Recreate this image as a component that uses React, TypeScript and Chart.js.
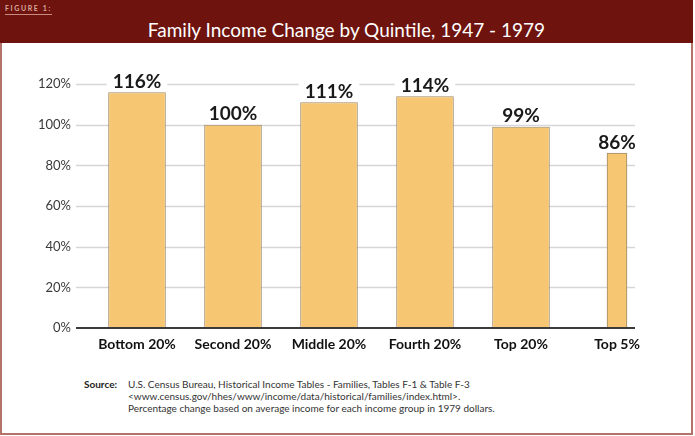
import React, { useEffect, useRef } from 'react';
import { Chart, registerables } from 'chart.js';

Chart.register(...registerables);

const figureLabel = 'FIGURE 1:';
const titleText = 'Family Income Change by Quintile, 1947 - 1979';
const categories = ['Bottom 20%', 'Second 20%', 'Middle 20%', 'Fourth 20%', 'Top 20%', 'Top 5%'];
const values = [116, 100, 111, 114, 99, 86];
const narrowCategories = ['Top 5%'];
const yMin = 0;
const yMax = 120;
const yStep = 20;
const sourceLabel = 'Source:';
const sourceLines = [
  'U.S. Census Bureau, Historical Income Tables - Families, Tables F-1 & Table F-3',
  '<www.census.gov/hhes/www/income/data/historical/families/index.html>.',
  'Percentage change based on average income for each income group in 1979 dollars.',
];

const FONT = 'Lato, "Open Sans", "DejaVu Sans", sans-serif';
const BAR_FILL = '#f6c672';
const BAR_EDGE = '#9a8a6a';

const gridPlugin = {
  id: 'customGrid',
  beforeDatasetsDraw(chart: any) {
    const { ctx } = chart;
    const y = chart.scales.y;
    const x0 = 76;
    const x1 = 635;
    ctx.save();
    ctx.strokeStyle = '#d6d6d6';
    ctx.lineWidth = 1.5;
    y.ticks.forEach((t: any) => {
      if (t.value === yMin) return;
      const py = Math.round(y.getPixelForValue(t.value)) + 0.5;
      ctx.beginPath();
      ctx.moveTo(x0, py);
      ctx.lineTo(x1, py);
      ctx.stroke();
    });
    ctx.restore();
  },
  afterDatasetsDraw(chart: any) {
    const { ctx } = chart;
    const y = chart.scales.y;
    ctx.save();
    // value labels with white backing
    ctx.font = `bold 19px ${FONT}`;
    ctx.textAlign = 'center';
    ctx.textBaseline = 'alphabetic';
    chart.data.datasets.forEach((ds: any, di: number) => {
      const meta = chart.getDatasetMeta(di);
      meta.data.forEach((bar: any, i: number) => {
        const v = ds.data[i];
        if (v === null || v === undefined) return;
        const text = `${v}%`;
        const w = ctx.measureText(text).width;
        const base = bar.y - 4.5;
        ctx.fillStyle = '#ffffff';
        ctx.fillRect(bar.x - w / 2 - 6, base - 17, w + 12, 19);
        ctx.fillStyle = '#1a1a1a';
        ctx.fillText(text, bar.x, base);
      });
    });
    // baseline
    const py = y.getPixelForValue(yMin);
    ctx.strokeStyle = '#3a3a3a';
    ctx.lineWidth = 2;
    ctx.beginPath();
    ctx.moveTo(76, py);
    ctx.lineTo(635, py);
    ctx.stroke();
    ctx.restore();
  },
};

export default function App() {
  const canvasRef = useRef<HTMLCanvasElement | null>(null);

  useEffect(() => {
    document.body.style.margin = '0';
    const canvas = canvasRef.current;
    if (!canvas) return;
    const wideData = categories.map((c, i) => (narrowCategories.includes(c) ? null : values[i]));
    const narrowData = categories.map((c, i) => (narrowCategories.includes(c) ? values[i] : null));
    const chart = new Chart(canvas, {
      type: 'bar',
      data: {
        labels: categories,
        datasets: [
          {
            label: 'Quintiles',
            data: wideData,
            backgroundColor: BAR_FILL,
            borderColor: BAR_EDGE,
            borderWidth: 1,
            barPercentage: 0.6,
            categoryPercentage: 1,
            grouped: false,
          } as any,
          {
            label: 'Top 5%',
            data: narrowData,
            backgroundColor: BAR_FILL,
            borderColor: BAR_EDGE,
            borderWidth: 1,
            barThickness: 20,
            grouped: false,
          } as any,
        ],
      },
      options: {
        responsive: false,
        animation: false,
        devicePixelRatio: 1,
        layout: { padding: { left: 0, right: 30, top: 41, bottom: 0 } },
        plugins: {
          legend: { display: false },
          tooltip: { enabled: false },
          title: { display: false },
        },
        scales: {
          x: {
            type: 'category',
            offset: true,
            grid: { display: false, drawTicks: false },
            border: { display: false },
            ticks: {
              color: '#111111',
              font: { family: FONT, size: 14, weight: 'bold' },
              padding: 8,
              maxRotation: 0,
              autoSkip: false,
            },
            afterFit: (s: any) => {
              s.height = 35;
            },
          },
          y: {
            min: yMin,
            max: yMax,
            grid: { display: false, drawTicks: false },
            border: { display: false },
            ticks: {
              stepSize: yStep,
              color: '#3a3a3a',
              font: { family: FONT, size: 13 },
              padding: 18,
              callback: (v: any) => `${v}%`,
            },
            afterFit: (s: any) => {
              s.width = 89;
            },
          },
        },
      },
      plugins: [gridPlugin],
    });
    return () => chart.destroy();
  }, []);

  return (
    <div
      style={{
        position: 'fixed',
        left: 0,
        top: 0,
        width: 695,
        height: 436,
        background: '#ffffff',
        overflow: 'hidden',
        fontFamily: FONT,
      }}
    >
      <div
        style={{
          position: 'absolute',
          left: 0,
          top: 0,
          width: 689,
          height: 431,
          border: '2px solid #b3736a',
          boxSizing: 'content-box',
        }}
      />
      <div
        style={{
          position: 'absolute',
          left: 0,
          top: 0,
          width: 693,
          height: 43,
          background: '#6e130e',
        }}
      >
        <div
          style={{
            position: 'absolute',
            left: 5,
            top: 4,
            fontSize: 7,
            fontWeight: 'bold',
            letterSpacing: 1.6,
            color: '#dba89f',
            borderBottom: '1px solid #c98a80',
            paddingBottom: 1,
            lineHeight: '9px',
          }}
        >
          {figureLabel}
        </div>
        <div
          style={{
            position: 'absolute',
            left: 0,
            width: 693,
            top: 18,
            textAlign: 'center',
            fontSize: 19,
            color: '#ffffff',
            lineHeight: '24px',
          }}
        >
          {titleText}
        </div>
      </div>
      <canvas
        ref={canvasRef}
        width={695}
        height={320}
        style={{ position: 'absolute', left: 0, top: 43, width: 695, height: 320 }}
      />
      <div
        style={{
          position: 'absolute',
          left: 84,
          top: 378,
          fontSize: 10,
          fontWeight: 'bold',
          color: '#222',
          lineHeight: '12px',
        }}
      >
        {sourceLabel}
      </div>
      <div
        style={{
          position: 'absolute',
          left: 128,
          top: 378,
          fontSize: 10,
          color: '#333',
          lineHeight: '12px',
          whiteSpace: 'nowrap',
        }}
      >
        {sourceLines.map((l, i) => (
          <div key={i}>{l}</div>
        ))}
      </div>
    </div>
  );
}
